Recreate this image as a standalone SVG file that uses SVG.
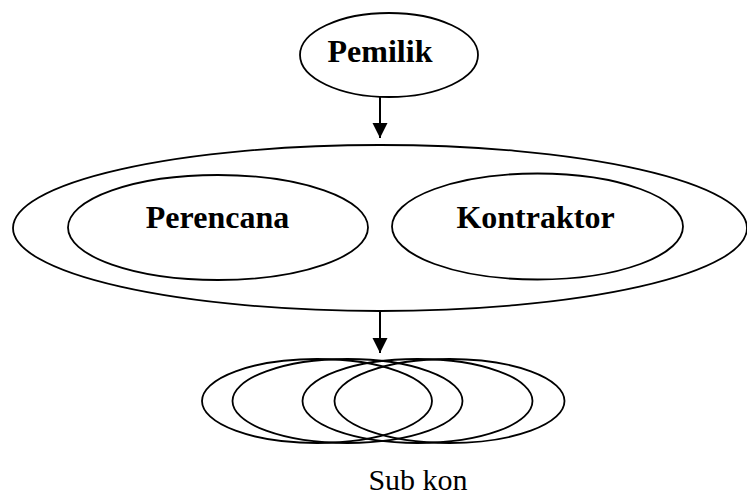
<svg xmlns="http://www.w3.org/2000/svg" width="747" height="495" viewBox="0 0 747 495">
<style>
.n{fill:none;stroke:#000;stroke-width:1.8}
.b{font-family:"Liberation Serif","Times New Roman",serif;font-weight:bold;font-size:32px;text-anchor:middle;fill:#000}
.r{font-family:"Liberation Serif","Times New Roman",serif;font-size:30px;text-anchor:middle;fill:#000}
.c{stroke:#000;stroke-width:2;fill:none}
</style>
<defs>
<marker id="ah" markerUnits="userSpaceOnUse" markerWidth="16" markerHeight="16" refX="15" refY="7.5" orient="auto">
<path d="M0,0 L15,7.5 L0,15 Z" fill="#000"/>
</marker>
</defs>
<rect width="747" height="495" fill="#fff"/>
<g id="pemilik">
<ellipse class="n" cx="389" cy="55" rx="89" ry="42"/>
<text class="b" x="380" y="62">Pemilik</text>
</g>
<g id="group">
<ellipse class="n" cx="380" cy="228" rx="367" ry="83"/>
</g>
<g id="perencana">
<ellipse class="n" cx="218" cy="227.5" rx="150" ry="52.5"/>
<text class="b" x="217.5" y="228">Perencana</text>
</g>
<g id="kontraktor">
<ellipse class="n" cx="537.5" cy="226.5" rx="145.5" ry="53"/>
<text class="b" x="535.5" y="228">Kontraktor</text>
</g>
<g id="subkon">
<ellipse class="n" cx="317" cy="401" rx="115" ry="42"/>
<ellipse class="n" cx="347.5" cy="401" rx="115" ry="42"/>
<ellipse class="n" cx="417.5" cy="401" rx="115" ry="42"/>
<ellipse class="n" cx="449.5" cy="401" rx="115" ry="42"/>
<text class="r" x="418" y="490">Sub kon</text>
</g>
<g id="connectors">
<line class="c" x1="380" y1="97" x2="380" y2="138" marker-end="url(#ah)"/>
<line class="c" x1="380" y1="312" x2="380" y2="353" marker-end="url(#ah)"/>
</g>
</svg>
